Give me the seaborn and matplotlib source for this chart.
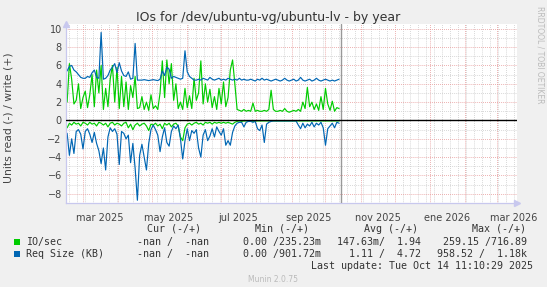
import numpy as np
import pandas as pd
import matplotlib
matplotlib.use("Agg")
import matplotlib.pyplot as plt
import matplotlib.dates as mdates
from matplotlib.patches import Rectangle
import seaborn as sns

# ---------------- data (2-day samples from 2025-02-15) ----------------
io_write = [2.0, 6.2, 4.5, 1.8, 2.2, 4.0, 1.3, 2.5, 3.2, 1.4,
            2.8, 5.0, 1.5, 5.5, 3.0, 6.0, 1.2, 3.5, 1.5, 4.5,
            6.0, 2.0, 5.8, 1.3, 4.8, 1.5, 4.2, 1.2, 3.8, 2.5,
            4.8, 1.3, 1.4, 2.6, 1.2, 2.0, 1.1, 2.8, 1.3, 1.6,
            1.2, 3.0, 6.5, 2.5, 6.6, 4.0, 6.2, 2.2, 4.0, 1.3,
            2.0, 1.2, 3.5, 1.4, 2.7, 1.3, 4.6, 2.2, 3.0, 6.5,
            1.8, 4.0, 2.0, 3.4, 1.4, 2.6, 1.2, 3.5, 1.8, 4.2,
            1.5, 2.5, 5.5, 6.6, 4.0, 1.2, 1.1, 1.0, 1.2, 1.0,
            1.1, 1.0, 1.9, 1.0, 1.1, 1.0, 1.0, 1.1, 1.0, 1.2,
            3.3, 1.2, 1.0, 1.0, 1.1, 1.0, 1.3, 1.0, 0.9, 1.0,
            1.1, 1.0, 1.2, 1.0, 2.0, 1.3, 3.6, 1.5, 2.0, 1.2,
            1.8, 1.1, 2.6, 1.2, 3.5, 1.8, 1.1, 2.1, 1.0, 1.4,
            1.3]
io_read = [0.8, 0.3, 0.5, 0.2, 0.4, 0.3, 0.6, 0.2, 0.3, 0.5,
           0.2, 0.4, 0.3, 0.6, 0.2, 0.3, 0.5, 0.3, 0.7, 0.3,
           0.2, 0.5, 0.3, 0.4, 0.6, 0.3, 0.2, 0.8, 0.4, 1.0,
           0.5, 0.3, 0.6, 0.4, 0.3, 0.6, 1.1, 0.4, 0.5, 0.3,
           0.6, 0.4, 0.9, 0.3, 0.5, 0.3, 0.7, 0.4, 0.3, 0.6,
           1.8, 2.2, 0.8, 0.4, 0.3, 0.5, 0.3, 0.2, 0.4, 0.3,
           0.5, 0.2, 0.3, 0.2, 0.4, 0.2, 0.3, 0.2, 0.3, 0.2,
           0.3, 0.2, 0.3, 0.4, 0.2, 0.1, 0.05, 0.1, 0.05, 0.05,
           0.05, 0.05, 0.1, 0.05, 0.05, 0.05, 0.05, 0.05, 0.05, 0.05,
           0.05, 0.05, 0.05, 0.05, 0.05, 0.05, 0.05, 0.05, 0.05, 0.05,
           0.05, 0.05, 0.05, 0.05, 0.05, 0.05, 0.05, 0.05, 0.05, 0.05,
           0.05, 0.05, 0.05, 0.05, 0.05, 0.05, 0.05, 0.05, 0.05, 0.05,
           0.05]
req_write = [5.4, 5.9, 6.0, 5.5, 5.3, 5.0, 4.7, 4.6, 4.6, 4.8,
             4.7, 5.2, 5.5, 4.7, 4.6, 9.6, 4.5, 4.6, 4.9, 5.5,
             5.8, 6.2, 5.2, 6.3, 5.4, 4.9, 4.8, 5.3, 4.5, 4.6,
             8.4, 4.4, 4.4, 4.4, 4.45, 4.4, 4.35, 4.4, 4.45, 4.4,
             4.35, 4.5, 5.4, 4.9, 5.8, 5.6, 4.6, 4.8, 4.7, 4.6,
             4.5, 4.6, 7.6, 5.3, 4.8, 4.6, 4.4, 4.4, 4.5, 4.4,
             4.6, 4.5, 4.4, 4.7, 4.5, 4.4, 4.5, 4.6, 4.4, 4.5,
             4.4, 4.6, 4.5, 4.4, 4.5, 4.4, 4.6, 4.4, 4.5, 4.4,
             4.4, 4.5, 4.4, 4.3, 4.5, 4.4, 4.6, 4.4, 4.5, 4.4,
             4.3, 4.4, 4.5, 4.4, 4.3, 4.4, 4.6, 4.4, 4.3, 4.4,
             4.5, 4.3, 4.4, 4.7, 4.4, 4.3, 4.4, 4.5, 4.3, 4.4,
             4.6, 4.4, 4.3, 4.4, 4.5, 4.4, 4.3, 4.4, 4.3, 4.4,
             4.5]
req_read = [1.4, 3.8, 2.0, 3.6, 1.2, 1.0, 1.5, 3.1, 1.2, 0.9,
            1.5, 2.4, 1.3, 2.5, 3.3, 4.7, 3.0, 5.4, 1.8, 0.8,
            1.2, 0.9, 1.5, 4.8, 1.2, 1.4, 2.0, 1.6, 4.6, 2.5,
            5.2, 8.7, 3.8, 2.6, 4.0, 5.4, 2.5, 1.0, 0.5, 1.0,
            1.6, 3.4, 1.8, 0.8, 2.4, 2.8, 1.2, 0.6, 0.9, 0.5,
            2.0, 4.2, 2.2, 0.9, 2.2, 1.1, 1.4, 1.0, 3.0, 4.0,
            1.6, 1.0, 2.2, 1.7, 0.9, 1.8, 0.7, 1.2, 1.6, 0.9,
            2.7, 2.2, 2.7, 1.3, 0.6, 0.3, 0.2, 0.2, 0.7, 0.2,
            0.1, 0.1, 0.2, 0.1, 0.9, 1.1, 0.5, 2.4, 0.4, 0.2,
            0.1, 0.05, 0.05, 0.05, 0.05, 0.05, 0.05, 0.05, 0.05, 0.05,
            0.05, 0.05, 0.5, 0.9, 0.3, 0.8, 0.4, 0.6, 0.2, 0.7,
            0.3, 0.5, 0.2, 0.8, 2.7, 0.9, 0.6, 0.3, 0.8, 0.2,
            0.3]
start_date = "2025-02-15"
step = "2D"

title = "IOs for /dev/ubuntu-vg/ubuntu-lv - by year"
ylabel = "Units read (-) / write (+)"
month_labels = ["mar 2025", "may 2025", "jul 2025", "sep 2025",
                "nov 2025", "ene 2026", "mar 2026"]
header = ["Cur (-/+)", "Min (-/+)", "Avg (-/+)", "Max (-/+)"]
series_names = ["IO/sec", "Req Size (KB)"]
io_stats = ["-nan /  -nan", "0.00 /235.23m", "147.63m/  1.94", "259.15 /716.89"]
req_stats = ["-nan /  -nan", "0.00 /901.72m", "  1.11 /  4.72", "958.52 /  1.18k"]
last_update = "Last update: Tue Oct 14 11:10:29 2025"
footer = "Munin 2.0.75"
side_text = "RRDTOOL / TOBI OETIKER"

GREEN = "#00CC00"
BLUE = "#0066B3"

dates = pd.date_range(start_date, periods=len(io_write), freq=step)
df = pd.DataFrame({"date": dates,
                   "io_w": io_write, "io_r": -np.array(io_read),
                   "rq_w": req_write, "rq_r": -np.array(req_read)})

# ---------------- figure ----------------
sns.set_style("white")
plt.rcParams["font.family"] = ["DejaVu Sans"]
W, H = 547, 287
fig = plt.figure(figsize=(W / 100, H / 100), dpi=100, facecolor="#F0F0F0")

def fx(px):
    return px / W

def fy(py):
    return 1 - py / H

L, R, T, B = 66, 517, 24, 203
ax = fig.add_axes([fx(L), fy(B), (R - L) / W, (B - T) / H])
ax.set_facecolor("white")

xmin = pd.Timestamp("2025-02-14")
xmax = pd.Timestamp("2026-03-19")
ax.set_xlim(xmin, xmax)
ax.set_ylim(-9.0, 10.52)

# grid
ax.set_yticks(np.arange(-8, 11, 2))
ax.set_yticks(np.arange(-9, 11, 1), minor=True)
ax.xaxis.set_major_locator(mdates.MonthLocator())
ax.xaxis.set_minor_locator(mdates.WeekdayLocator(byweekday=mdates.MO))
ax.grid(which="minor", color="#C8C8C8", linestyle=(0, (0.7, 1.4)), linewidth=0.7)
ax.grid(which="major", color="#E69090", linestyle=(0, (0.7, 1.4)), linewidth=0.7)
ax.set_axisbelow(True)

# month labels centred on mid-month
ax.set_xticklabels([])
mid_months = pd.date_range("2025-03-01", periods=len(month_labels), freq="2MS") + pd.Timedelta(days=15)
for d, lab in zip(mid_months, month_labels):
    ax.text(d, -0.055, lab, transform=ax.get_xaxis_transform(), ha="center", va="top",
            fontsize=7, color="#444444")

ax.tick_params(axis="both", which="both", length=0)
ax.tick_params(axis="y", labelsize=7, labelcolor="#444444", pad=3)

for s in ["top", "right"]:
    ax.spines[s].set_visible(False)
for s in ["left", "bottom"]:
    ax.spines[s].set_color("#C8C8EE")
    ax.spines[s].set_linewidth(0.9)

# data
sns.lineplot(data=df, x="date", y="io_w", color=GREEN, linewidth=0.85, ax=ax)
sns.lineplot(data=df, x="date", y="io_r", color=GREEN, linewidth=0.85, ax=ax)
sns.lineplot(data=df, x="date", y="rq_w", color=BLUE, linewidth=0.85, ax=ax)
sns.lineplot(data=df, x="date", y="rq_r", color=BLUE, linewidth=0.85, ax=ax)
ax.set_xlabel("")
ax.set_ylabel("")

ax.axhline(0, color="black", linewidth=1.0, zorder=5)
ax.axvline(pd.Timestamp("2025-10-14 11:10"), color="#999999", linewidth=1.0, zorder=4)

# axis arrows
ax.plot([xmin], [10.52], marker="^", color="#C8C8EE", markersize=5, clip_on=False, zorder=6)
ax.plot([xmax], [-9.0], marker=">", color="#C8C8EE", markersize=5, clip_on=False, zorder=6)

# texts
fig.text(0.49, fy(18), title, ha="center", va="center", fontsize=9, color="#333333")
fig.text(fx(9), fy(118), ylabel, rotation=90, ha="center", va="center", fontsize=7.8, color="#444444")
fig.text(fx(540), fy(6), side_text, rotation=270, ha="center", va="top", fontsize=5.5, color="#BBBBBB")

mono = dict(family="DejaVu Sans Mono", fontsize=7.2, color="#333333", va="center")
col_right = [200.6, 308.8, 417.7, 526.2]
for h, xr in zip(header, col_right):
    fig.text(fx(xr), fy(228.6), h, ha="right", **mono)

val_right = [209.4, 321.0, 421.0, 527.0]
rows_y = [241.9, 254.0]
for name, color, stats, yy in zip(series_names, [GREEN, BLUE], [io_stats, req_stats], rows_y):
    fig.add_artist(Rectangle((fx(13.5), fy(yy + 3)), 6 / W, 6 / H, transform=fig.transFigure,
                             facecolor=color, edgecolor="none"))
    fig.text(fx(26), fy(yy), name, ha="left", **mono)
    for s, xr in zip(stats, val_right):
        fig.text(fx(xr), fy(yy), s, ha="right", **mono)

fig.text(fx(532.8), fy(266.3), last_update, ha="right", **mono)
fig.text(fx(273), fy(279.6), footer, ha="center", va="center", fontsize=5.5, color="#BBBBBB")

fig.savefig("out.png", dpi=100, facecolor=fig.get_facecolor())
